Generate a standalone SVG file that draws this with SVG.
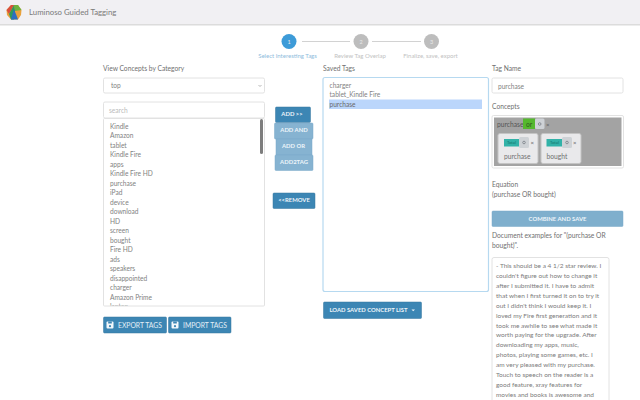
<svg xmlns="http://www.w3.org/2000/svg" width="640" height="400" viewBox="0 0 640 400">
<style>
text{font-family:"Lato","Liberation Sans",sans-serif;font-size:6.7px;fill:#777}
.lab{fill:#707070}
.item{fill:#828282;font-size:6.6px}
.ph{fill:#bbb;font-size:6.6px}
.step{font-size:6px;fill:#c2c2c2}
.num{font-size:5.500px;fill:#e8e8e8;text-anchor:middle}
.b{fill:#3c86b4;stroke:#35779f;stroke-width:.5}
.l{fill:#86b3d1;stroke:#7aa9c9;stroke-width:.5}
.bt{font-size:5.900px;font-weight:700;fill:#eef5fa;text-anchor:middle}
.bi{font-size:6.800px;fill:#e4eff7}
.box{fill:#fff;stroke:#e2e2e2;stroke-width:1}
.doc{font-size:6.500px;fill:#7c7c7c}
.x{font-size:6px;fill:#555}
.t{fill:#32b2a8}
.g{fill:#ced2d6}
.tg{font-size:4.200px;fill:#14746c}
.c{fill:#e9e9eb;stroke:#c4c4c4;stroke-width:1}
</style>
<defs>
<clipPath id="lc"><rect x="104" y="119" width="160" height="186.500"/></clipPath>
<g id="save"><rect x="-3.500" y="-3.500" width="7" height="7" rx="1" fill="#f2f7fb"/><rect x="-1.800" y="-3.500" width="3.600" height="2" fill="#3c86b4"/><circle cx="0" cy="1.200" r="1.100" fill="#3c86b4"/></g>
<g id="gear"><circle r="1.300" fill="none" stroke="#70767c" stroke-width=".7"/></g>
</defs>

<g id="header">
<rect width="640" height="24" fill="#f1f0f3"/>
<rect y="24" width="640" height="1.500" fill="#dcdcdc"/>
<polygon points="11,5 18,5 21.500,10 21,15 18,19.500 11,19.500 7,15 6.500,10" fill="#e9a13b"/>
<polygon points="6.500,10 11,5 14,5 9,14" fill="#d9503c"/>
<polygon points="14,5 18,5 21.500,10 15,11" fill="#6cb33f"/>
<polygon points="9,14 14,5 15,11 14,19.500 11,19.500" fill="#2f9a5b"/>
<polygon points="11,19.500 14,9 18,19.500" fill="#2d6fc0"/>
<text x="29" y="15" style="font-size:7.800px;fill:#7a7a7a">Luminoso Guided Tagging</text>
</g>

<g id="connectors" stroke="#d2d2d2" stroke-width="1">
<line x1="302" y1="41.500" x2="350" y2="41.500"/>
<line x1="372" y1="41.500" x2="421" y2="41.500"/>
</g>

<g id="step1"><circle cx="289" cy="41.500" r="7.500" fill="#3d9bd8"/><text x="289" y="43.500" class="num">1</text><text x="287.500" y="58" class="step" style="fill:#8fbcdc;text-anchor:middle">Select Interesting Tags</text></g>
<g id="step2"><circle cx="361" cy="41.500" r="7.500" fill="#bdbdbd"/><text x="361" y="43.500" class="num">2</text><text x="360" y="58" class="step" style="text-anchor:middle">Review Tag Overlap</text></g>
<g id="step3"><circle cx="431.500" cy="41.500" r="7.500" fill="#bdbdbd"/><text x="431.500" y="43.500" class="num">3</text><text x="430.500" y="58" class="step" style="text-anchor:middle">Finalize, save, export</text></g>

<g id="concepts-panel">
<text x="103" y="71" class="lab">View Concepts by Category</text>
<rect x="103.500" y="78" width="161" height="15" rx="1.500" class="box"/>
<text x="111" y="88" class="item">top</text>
<path d="M258.500 85l1.500 1.500 1.500-1.500" fill="none" stroke="#999" stroke-width=".7"/>
<rect x="103.500" y="102" width="161" height="16" rx="1.500" class="box"/>
<text x="109" y="112.500" class="ph">search</text>
<rect x="103.500" y="118.500" width="161" height="187.500" rx="1" class="box"/>
<g class="items">
<text x="110" y="128.500" class="item">Kindle</text>
<text x="110" y="138" class="item">Amazon</text>
<text x="110" y="147.500" class="item">tablet</text>
<text x="110" y="157" class="item">Kindle Fire</text>
<text x="110" y="166.500" class="item">apps</text>
<text x="110" y="176" class="item">Kindle Fire HD</text>
<text x="110" y="185.500" class="item">purchase</text>
<text x="110" y="195" class="item">iPad</text>
<text x="110" y="204.500" class="item">device</text>
<text x="110" y="214" class="item">download</text>
<text x="110" y="223.500" class="item">HD</text>
<text x="110" y="233" class="item">screen</text>
<text x="110" y="242.500" class="item">bought</text>
<text x="110" y="252" class="item">Fire HD</text>
<text x="110" y="261.500" class="item">ads</text>
<text x="110" y="271" class="item">speakers</text>
<text x="110" y="280.500" class="item">disappointed</text>
<text x="110" y="290" class="item">charger</text>
<text x="110" y="299.500" class="item">Amazon Prime</text>
<text x="110" y="309" class="item" clip-path="url(#lc)">laptop</text>
</g>
<rect x="260" y="119" width="3" height="35" rx="1.500" fill="#7d7d7d"/>
</g>

<g id="middle-buttons">
<rect x="275.500" y="107" width="35" height="15.500" rx="1" class="b"/><text x="292" y="114.500" class="bt" dy="1">ADD &gt;&gt;</text>
<rect x="274.500" y="123" width="38.500" height="16" rx="1" class="l"/><text x="294" y="130.500" class="bt" dy="1">ADD AND</text>
<rect x="276" y="139" width="36" height="16" class="l"/><text x="293.500" y="146.500" class="bt" dy="1">ADD OR</text>
<rect x="275" y="155" width="38" height="15.500" rx="1" class="l"/><text x="294" y="162.500" class="bt" dy="1">ADD2TAG</text>
<rect x="273" y="193" width="42" height="15.500" rx="1" class="b"/><text x="294" y="200.500" class="bt" dy="1">&lt;&lt;REMOVE</text>
</g>

<g id="tag-actions">
<rect x="103.500" y="317" width="63" height="16" rx="1" class="b"/><use href="#save" x="110" y="325"/><text x="118" y="327.500" class="bi">EXPORT TAGS</text>
<rect x="168.500" y="317" width="62.500" height="16" rx="1" class="b"/><use href="#save" x="175" y="325"/><text x="183" y="327.500" class="bi">IMPORT TAGS</text>
</g>

<g id="saved-tags">
<text x="323" y="71" class="lab">Saved Tags</text>
<rect x="323" y="77.500" width="165.500" height="214" rx="2" fill="#fff" stroke="#b6d9f0" stroke-width="1.200"/>
<rect x="329" y="99.500" width="153" height="9.500" fill="#bbd6fb"/>
<text x="329.500" y="87.500" class="item">charger</text>
<text x="329.500" y="97" class="item">tablet_Kindle Fire</text>
<text x="329.500" y="106.500" class="item" style="fill:#6a6a6a">purchase</text>
<rect x="323.500" y="302" width="98" height="16.500" rx="1" class="b"/>
<text x="368.500" y="311.500" class="bt">LOAD SAVED CONCEPT LIST</text>
<polygon points="411.500,309.500 415,309.500 413.200,311.300" fill="#eef5fa"/>
</g>

<g id="tag-editor">
<text x="492" y="71" class="lab">Tag Name</text>
<rect x="492" y="78" width="131" height="15" rx="1.500" class="box"/>
<text x="498" y="88.500" class="item">purchase</text>
<text x="492" y="109" class="lab">Concepts</text>
<rect x="492" y="115.500" width="131.500" height="52.500" rx="1.500" class="box"/>
<rect x="494" y="117.500" width="127.500" height="48.500" fill="#a3a3a3"/>
<text x="497" y="126.500" style="fill:#555">purchase</text>
<rect x="523" y="118.500" width="12" height="10.500" fill="#55b82e"/>
<text x="529" y="126.500" style="fill:#2f5a1f;text-anchor:middle">or</text>
<rect x="535" y="118.500" width="9.500" height="10.500" rx="1.500" class="g"/><use href="#gear" x="539.700" y="124"/>
<text x="546" y="126.500" class="x">×</text>
<g id="concept-purchase">
<rect x="498" y="133.500" width="40" height="30" rx="2" class="c"/>
<rect x="504" y="139" width="15" height="7.500" class="t"/><text x="507" y="144.300" class="tg">Total</text>
<rect x="519" y="137" width="10" height="11" rx="1.500" class="g"/><use href="#gear" x="524" y="142.500"/>
<text x="530.500" y="144.500" class="x">×</text>
<text x="504" y="159" class="lab">purchase</text>
</g>
<g id="concept-bought">
<rect x="541" y="133.500" width="40" height="30" rx="2" class="c"/>
<rect x="546.500" y="139" width="15.500" height="7.500" class="t"/><text x="550" y="144.300" class="tg">Total</text>
<rect x="562" y="137" width="10" height="11" rx="1.500" class="g"/><use href="#gear" x="567" y="142.500"/>
<text x="573" y="144.500" class="x">×</text>
<text x="546.500" y="159" class="lab">bought</text>
</g>
<text x="492" y="187" class="lab">Equation</text>
<text x="492" y="197" class="lab">(purchase OR bought)</text>
<rect x="492" y="211" width="131" height="15.500" rx="1" class="l" style="fill:#7fafcd"/>
<text x="557.500" y="220.500" class="bt">COMBINE AND SAVE</text>
<text x="492" y="238" class="lab">Document examples for "(purchase OR</text>
<text x="492" y="248" class="lab">bought)".</text>
</g>

<g id="document-box">
<rect x="492" y="257.500" width="117" height="150" rx="2" class="box"/>
<text x="496" y="268" class="doc">- This should be a 4 1/2 star review. I</text>
<text x="496" y="278" class="doc">couldn't figure out how to change it</text>
<text x="496" y="287.900" class="doc">after I submitted it. I have to admit</text>
<text x="496" y="297.800" class="doc">that when I first turned it on to try it</text>
<text x="496" y="307.700" class="doc">out I didn't think I would keep it. I</text>
<text x="496" y="317.600" class="doc">loved my Fire first generation and it</text>
<text x="496" y="327.500" class="doc">took me awhile to see what made it</text>
<text x="496" y="337.400" class="doc">worth paying for the upgrade. After</text>
<text x="496" y="347.300" class="doc">downloading my apps, music,</text>
<text x="496" y="357.200" class="doc">photos, playing some games, etc. I</text>
<text x="496" y="367.100" class="doc">am very pleased with my purchase.</text>
<text x="496" y="377" class="doc">Touch to speech on the reader is a</text>
<text x="496" y="386.900" class="doc">good feature, xray features for</text>
<text x="496" y="396.800" class="doc">movies and books is awesome and</text>
</g>
</svg>
